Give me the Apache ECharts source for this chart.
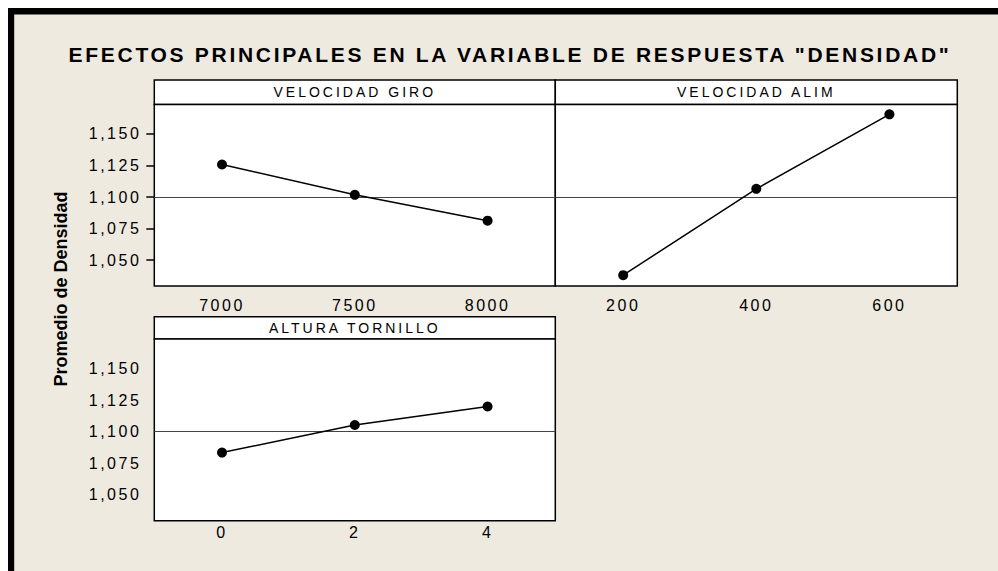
<!DOCTYPE html>
<html><head><meta charset="utf-8">
<script src="https://cdn.jsdelivr.net/npm/echarts@6/dist/echarts.min.js"></script>
<style>html,body{margin:0;padding:0;background:#fff}#main{width:998px;height:571px}</style>
</head><body><div id="main"></div>
<script>
// ---- data ----
const chartTitle = 'EFECTOS PRINCIPALES EN LA VARIABLE DE RESPUESTA "DENSIDAD"';
const yAxisTitle = 'Promedio de Densidad';
const panelTitles = ['VELOCIDAD GIRO', 'VELOCIDAD ALIM', 'ALTURA TORNILLO'];
const giroLevels = [7000, 7500, 8000];
const giroMeans = [1.1258, 1.1018, 1.0813];
const alimLevels = [200, 400, 600];
const alimMeans = [1.0382, 1.1065, 1.1655];
const alturaLevels = [0, 2, 4];
const alturaMeans = [1.0835, 1.1053, 1.1199];
const grandMean = 1.103;
const yTicks = [1.050, 1.075, 1.100, 1.125, 1.150];
const yLimits = [1.0296, 1.1733];
const giroLimits = [6745, 8255];
const alimLimits = [98, 702];
const alturaLimits = [-1.02, 5.02];

// ---- layout ----
const FONT = '"Liberation Sans", Arial, Helvetica, sans-serif';
const grids = [
  {left: 154.3, top: 104.5, width: 401, height: 181.5},
  {left: 555.3, top: 104.5, width: 402, height: 181.5},
  {left: 154.3, top: 339, width: 401, height: 181.7}
];
const strips = [
  {x: 154.3, y: 80, w: 401, h: 24.5},
  {x: 555.3, y: 80, w: 402, h: 24.5},
  {x: 154.3, y: 316.7, w: 401, h: 22.3}
];
const panels = [
  {levels: giroLevels, means: giroMeans, lim: giroLimits, showY: true, xMargin: 11},
  {levels: alimLevels, means: alimMeans, lim: alimLimits, showY: false, xMargin: 11},
  {levels: alturaLevels, means: alturaMeans, lim: alturaLimits, showY: true, xMargin: 4}
];

const fmtY = v => v.toFixed(3).replace('.', ',');
const fmtX = v => String(v);

const option = {
  animation: false,
  backgroundColor: '#ffffff',
  grid: grids.map(g => Object.assign({show: true, backgroundColor: '#ffffff', borderColor: '#000', borderWidth: 1.5, z: 1}, g)),
  xAxis: panels.map((p, i) => ({
    type: 'value', gridIndex: i, min: p.lim[0], max: p.lim[1],
    axisLine: {show: false}, axisTick: {show: false}, splitLine: {show: false},
    axisLabel: {show: true, customValues: p.levels, formatter: fmtX, color: '#000', fontSize: 16, fontFamily: FONT, margin: p.xMargin}
  })),
  yAxis: panels.map((p, i) => ({
    type: 'value', gridIndex: i, min: yLimits[0], max: yLimits[1],
    axisLine: {show: false}, splitLine: {show: false},
    axisTick: {show: p.showY, customValues: yTicks, length: 8, lineStyle: {color: '#000', width: 1.5}},
    axisLabel: {show: p.showY, customValues: yTicks, formatter: fmtY, color: '#000', fontSize: 16, fontFamily: FONT, margin: 13}
  })),
  series: panels.map((p, i) => ({
    type: 'line', xAxisIndex: i, yAxisIndex: i, z: 5,
    data: p.levels.map((x, k) => [x, p.means[k]]),
    symbol: 'circle', symbolSize: 10,
    itemStyle: {color: '#000'},
    lineStyle: {color: '#000', width: 1.5},
    markLine: {silent: true, symbol: 'none', label: {show: false},
      lineStyle: {color: '#444', width: 1.2, type: 'solid'}, data: [{yAxis: grandMean}]}
  })),
  graphic: [
    {type: 'rect', shape: {x: 8, y: 8, width: 990, height: 563}, style: {fill: '#EEEAE0'}, z: -10},
    {type: 'rect', shape: {x: 8, y: 8, width: 990, height: 6.5}, style: {fill: '#000'}, z: -9},
    {type: 'rect', shape: {x: 8, y: 8, width: 6.2, height: 563}, style: {fill: '#000'}, z: -9},
    {type: 'text', x: 510, y: 54.5, z: 10,
      style: {text: chartTitle, font: 'bold 21px ' + FONT, fill: '#000', textAlign: 'center', textVerticalAlign: 'middle'}},
    {type: 'text', x: 61, y: 289, rotation: Math.PI / 2, z: 10,
      style: {text: yAxisTitle, font: 'bold 18px ' + FONT, fill: '#000', textAlign: 'center', textVerticalAlign: 'middle'}}
  ].concat(strips.map((s, i) => ({
    type: 'group', z: 10, children: [
      {type: 'rect', shape: {x: s.x, y: s.y, width: s.w, height: s.h}, style: {fill: '#fff', stroke: '#000', lineWidth: 1.5}},
      {type: 'text', x: s.x + s.w / 2, y: s.y + s.h / 2,
        style: {text: panelTitles[i], font: '14px ' + FONT, fill: '#000', textAlign: 'center', textVerticalAlign: 'middle'}}
    ]
  })))
};

const chart = echarts.init(document.getElementById('main'), null, {renderer: 'svg', width: 998, height: 571});
chart.setOption(option);

function applySpacing() {
  document.querySelectorAll('#main svg text').forEach(t => {
    const s = t.textContent;
    let ls = '2.5px';
    if (s === yAxisTitle) ls = '0px';
    else if (s === chartTitle) ls = '2.7px';
    else if (panelTitles.indexOf(s) >= 0) ls = '3px';
    t.setAttribute('letter-spacing', ls);
  });
}
applySpacing();
chart.on('finished', applySpacing);
</script>
</body></html>
